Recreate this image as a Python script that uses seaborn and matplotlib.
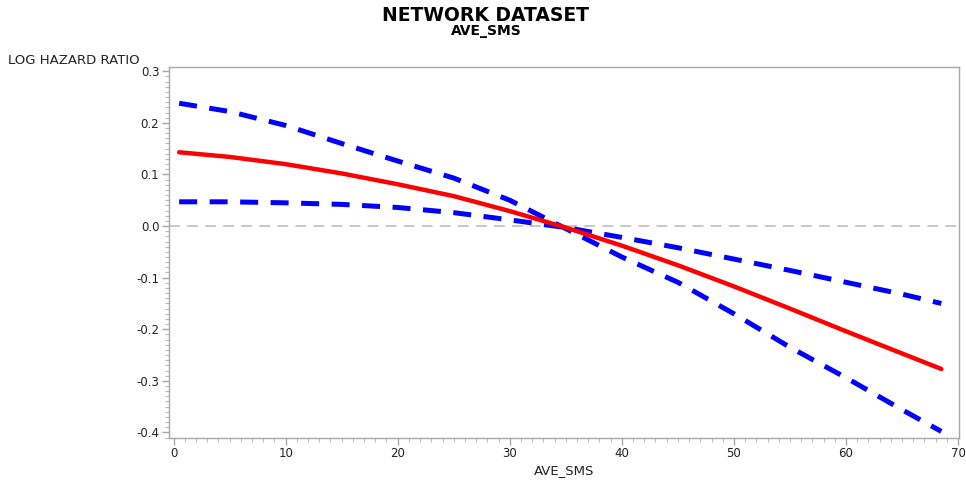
import matplotlib
matplotlib.use("Agg")
import matplotlib.pyplot as plt
from matplotlib.ticker import MultipleLocator, FormatStrFormatter
import seaborn as sns
import pandas as pd

# values
ave_sms = [0.5, 5, 10, 15, 20, 25, 30, 35, 40, 45, 50, 55, 60, 65, 68.5]
log_hr = [0.143, 0.134, 0.120, 0.102, 0.081, 0.058, 0.029, -0.003,
          -0.038, -0.076, -0.117, -0.160, -0.204, -0.247, -0.277]
band_steep = [0.238, 0.222, 0.195, 0.160, 0.126, 0.093, 0.050, -0.005,
              -0.060, -0.109, -0.170, -0.235, -0.294, -0.356, -0.398]
band_flat = [0.047, 0.047, 0.045, 0.042, 0.036, 0.026, 0.012, -0.003,
             -0.022, -0.042, -0.064, -0.086, -0.109, -0.132, -0.150]

df = pd.DataFrame({"AVE_SMS": ave_sms, "loghr": log_hr,
                   "steep": band_steep, "flat": band_flat})

sns.set_style("white")
plt.rcParams['font.family'] = ['DejaVu Sans']

fig = plt.figure(figsize=(9.66, 4.83), dpi=100)
ax = fig.add_axes([0.175, 0.094, 0.818, 0.767])

ax.axhline(0, color='#c4c4c4', lw=1.3, ls=(0, (6, 4)), zorder=1)

dash = (0, (3.6, 2.5))
sns.lineplot(data=df, x="AVE_SMS", y="steep", ax=ax, color='blue', lw=3.6,
             linestyle=dash, dash_capstyle='butt', zorder=2)
sns.lineplot(data=df, x="AVE_SMS", y="flat", ax=ax, color='blue', lw=3.6,
             linestyle=dash, dash_capstyle='butt', zorder=2)
sns.lineplot(data=df, x="AVE_SMS", y="loghr", ax=ax, color='red', lw=3.2,
             solid_capstyle='round', zorder=3)

ax.set_xlim(-0.4, 70.1)
ax.set_ylim(-0.41, 0.308)
ax.xaxis.set_major_locator(MultipleLocator(10))
ax.xaxis.set_minor_locator(MultipleLocator(1))
ax.yaxis.set_major_locator(MultipleLocator(0.1))
ax.yaxis.set_minor_locator(MultipleLocator(0.01))
ax.yaxis.set_major_formatter(FormatStrFormatter('%.1f'))

for s in ax.spines.values():
    s.set_color('#a8a8a8')
    s.set_linewidth(1.0)
ax.tick_params(which='major', direction='out', length=5, width=1,
               color='#a8a8a8', labelsize=8.5, labelcolor='#222222', pad=2,
               bottom=True, left=True)
ax.tick_params(which='minor', direction='out', length=3, width=0.8,
               color='#b8b8b8', bottom=True, left=True)

ax.set_xlabel("AVE_SMS", fontsize=9.5, color='#222222', labelpad=3)
ax.set_ylabel("")
fig.text(0.008, 0.862, "LOG HAZARD RATIO", fontsize=9.5, color='#222222',
         ha='left', va='bottom')

fig.text(0.503, 0.967, "NETWORK DATASET", fontsize=13.5, fontweight='bold',
         color='black', ha='center', va='center')
fig.text(0.503, 0.935, "AVE_SMS", fontsize=10, fontweight='bold',
         color='black', ha='center', va='center')

fig.savefig("out.png", dpi=100)
